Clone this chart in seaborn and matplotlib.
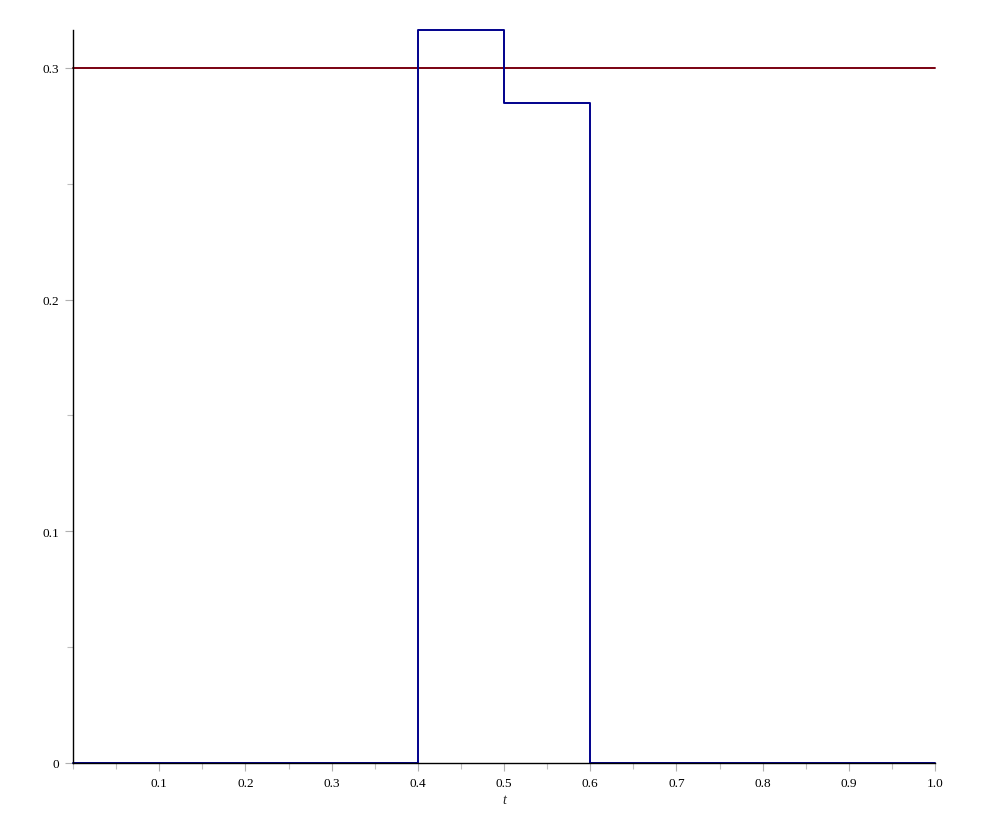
import matplotlib
matplotlib.use("Agg")
import matplotlib.pyplot as plt
import seaborn as sns
import pandas as pd
from matplotlib.ticker import MultipleLocator, FixedLocator

# data
step_t = [0.0, 0.4, 0.5, 0.6, 1.0]
step_y = [0.0, 0.3164, 0.2848, 0.0, 0.0]
ref_t = [0.0, 1.0]
ref_y = [0.3, 0.3]
xtick_vals = [0.1, 0.2, 0.3, 0.4, 0.5, 0.6, 0.7, 0.8, 0.9, 1.0]
xtick_labels = ["0.1", "0.2", "0.3", "0.4", "0.5", "0.6", "0.7", "0.8", "0.9", "1.0"]
ytick_vals = [0.0, 0.1, 0.2, 0.3]
ytick_labels = ["0", "0.1", "0.2", "0.3"]

sns.set_theme(style="white")
plt.rcParams['font.family'] = ['Liberation Serif', 'DejaVu Serif']

fig = plt.figure(figsize=(9.93, 8.29), dpi=100)
ax = fig.add_axes([73/993, (829-764)/829, (935-73)/993, (764-31)/829])

df_ref = pd.DataFrame({"t": ref_t, "y": ref_y})
df_step = pd.DataFrame({"t": step_t, "y": step_y})
sns.lineplot(data=df_ref, x="t", y="y", ax=ax, color="#7A0010", linewidth=1.4)
sns.lineplot(data=df_step, x="t", y="y", ax=ax, color="#00008C", linewidth=1.4,
             drawstyle="steps-post")
for ln in ax.lines:
    ln.set_clip_on(False)

ax.set_xlim(0, 1.0)
ax.set_ylim(0, 0.3164)
ax.xaxis.set_major_locator(FixedLocator(xtick_vals))
ax.set_xticklabels(xtick_labels)
ax.xaxis.set_minor_locator(MultipleLocator(0.05))
ax.yaxis.set_major_locator(FixedLocator(ytick_vals))
ax.set_yticklabels(ytick_labels)
ax.yaxis.set_minor_locator(MultipleLocator(0.05))

ax.tick_params(axis="both", which="major", length=6, width=0.8, color="#b0b0b0",
               labelsize=9.5, labelcolor="black", direction="out", pad=4)
ax.tick_params(axis="both", which="minor", length=4, width=0.8, color="#c0c0c0",
               direction="out")
ax.tick_params(axis="x", which="both", bottom=True)
ax.tick_params(axis="y", which="both", left=True)

for s in ["top", "right"]:
    ax.spines[s].set_visible(False)
for s in ["left", "bottom"]:
    ax.spines[s].set_color("black")
    ax.spines[s].set_linewidth(1.0)

ax.set_xlabel("t", fontstyle="italic", fontsize=10, labelpad=3)
ax.set_ylabel("")
ax.grid(False)

fig.savefig("out.png", dpi=100)
